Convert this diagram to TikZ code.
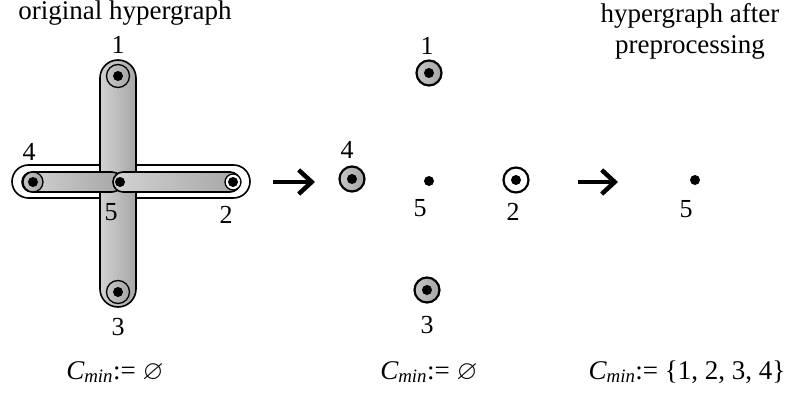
\documentclass[tikz,border=0pt]{standalone}
\usepackage{amssymb}
\usepackage{fontspec}
\setmainfont{Liberation Serif}
\usetikzlibrary{arrows.meta}

\tikzset{
  band/.style={draw=black, line width=1.6pt, left color=gray!35, middle color=gray!5, right color=gray!70},
  vtx/.style={circle, draw=black, line width=2.2pt, minimum size=25pt, inner sep=0pt,
              left color=gray!45, middle color=white, right color=gray!70},
  pin/.style={circle, fill=black, minimum size=10pt, inner sep=0pt},
  lbl/.style={font=\fontsize{26}{30}\selectfont, inner sep=0pt},
  ttl/.style={font=\fontsize{27}{32}\selectfont, inner sep=0pt},
  reduce/.style={line width=4.5pt, -{Straight Barb[length=13pt,width=24pt]}}
}

\begin{document}
\begin{tikzpicture}[x=1pt, y=-1pt]
\useasboundingbox (0,0) rectangle (786,393);

% Titles
\node[ttl, anchor=base] (title1) at (125,20) {original hypergraph};
\node[ttl, anchor=base] (title2a) at (690,23) {hypergraph after};
\node[ttl, anchor=base] (title2b) at (690,54) {preprocessing};

% Original hypergraph: hyperedges
\draw[line width=1.6pt, fill=white, rounded corners=16.5pt] (12,165) rectangle (250,198);
\draw[band, rounded corners=18pt] (100,60) rectangle (136,307);
\draw[band, rounded corners=10pt] (22,172) rectangle (122,192);
\draw[band, rounded corners=10pt] (113,172) rectangle (240,192);

% Original hypergraph: vertices
\node[vtx, minimum size=23pt, line width=1.3pt] (v1) at (118,76) {};
\node[vtx, minimum size=23pt, line width=1.3pt] (v3) at (118,292) {};
\node[vtx, minimum size=20pt, line width=1.3pt] (v4) at (33,182) {};
\node[vtx, minimum size=16pt, line width=1.3pt, left color=white, middle color=white, right color=white] (v2) at (233,182) {};
\foreach \v in {v1,v2,v3,v4}
  \node[pin] at (\v) {};
\node[pin] (v5) at (120,182) {};

\node[lbl] (l1) at (118,45) {1};
\node[lbl] (l4) at (29,152) {4};
\node[lbl] (l5) at (111,212) {5};
\node[lbl] (l2) at (226,215) {2};
\node[lbl] (l3) at (118,327) {3};

% First reduction
\coordinate (a1) at (273,182);
\coordinate (b1) at (315,182);
\draw[reduce] (a1) -- (b1);

% Hypergraph after removing edges
\node[vtx] (m1) at (429,73) {};
\node[vtx] (m4) at (352,179) {};
\node[vtx] (m3) at (427,290) {};
\node[vtx, left color=white, middle color=white, right color=white] (m2) at (516,180) {};
\foreach \v in {m1,m2,m3,m4}
  \node[pin] at (\v) {};
\node[pin] (m5) at (429,181) {};

\node[lbl] (k1) at (427,46) {1};
\node[lbl] (k4) at (347,150) {4};
\node[lbl] (k5) at (420,208) {5};
\node[lbl] (k2) at (513,212) {2};
\node[lbl] (k3) at (427,325) {3};

% Second reduction
\coordinate (a2) at (578,182);
\coordinate (b2) at (618,182);
\draw[reduce] (a2) -- (b2);

% Hypergraph after preprocessing
\node[pin] (r5) at (695,180) {};
\node[lbl] (j5) at (686,209) {5};

% Solutions
\node[ttl, anchor=base] (cmin1) at (115,379) {\textit{C\textsubscript{min}}:= $\varnothing$};
\node[ttl, anchor=base] (cmin2) at (429,379) {\textit{C\textsubscript{min}}:= $\varnothing$};
\node[ttl, anchor=base] (cmin3) at (687,379) {\textit{C\textsubscript{min}}:= \{1, 2, 3, 4\}};

\end{tikzpicture}
\end{document}
